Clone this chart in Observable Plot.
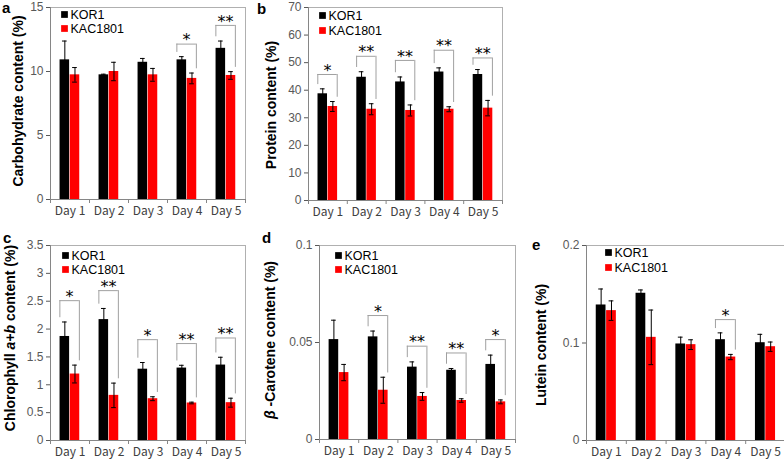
<!DOCTYPE html>
<html><head><meta charset="utf-8">
<script src="https://cdn.jsdelivr.net/npm/d3@7"></script>
<script src="https://cdn.jsdelivr.net/npm/@observablehq/plot@0.6"></script>
<style>
body{margin:0;background:#fff;}
#wrap{position:relative;width:784px;height:462px;overflow:hidden;background:#fff;}
#wrap > svg{position:absolute;}
</style></head><body><div id="wrap"></div>
<script>
const days = ["Day 1","Day 2","Day 3","Day 4","Day 5"];
const series = ["KOR1","KAC1801"];

// a: Carbohydrate content (%)
const carbKOR = [10.91, 9.74, 10.72, 10.91, 11.81];
const carbKORerr = [1.47, 0.05, 0.30, 0.25, 0.57];
const carbKAC = [9.74, 10.0, 9.74, 9.46, 9.69];
const carbKACerr = [0.57, 0.72, 0.50, 0.42, 0.30];
const carbSig = [{day:"Day 4", label:"*", y:12.14}, {day:"Day 5", label:"**", y:13.6}];
const carbTicks = [0, 5, 10, 15];

// b: Protein content (%)
const protKOR = [38.7, 44.7, 43.0, 46.6, 45.7];
const protKORerr = [1.8, 2.0, 1.8, 1.5, 1.8];
const protKAC = [34.1, 33.1, 32.65, 33.1, 33.5];
const protKACerr = [1.8, 2.0, 2.0, 0.9, 2.8];
const protSig = [{day:"Day 1", label:"*", y:45.7}, {day:"Day 2", label:"**", y:52.3}, {day:"Day 3", label:"**", y:50.8}, {day:"Day 4", label:"**", y:54.5}, {day:"Day 5", label:"**", y:51.7}];
const protTicks = [0, 10, 20, 30, 40, 50, 60, 70];

// c: Chlorophyll a+b content (%)
const chlKOR = [1.867, 2.17, 1.28, 1.30, 1.354];
const chlKORerr = [0.26, 0.20, 0.12, 0.05, 0.14];
const chlKAC = [1.193, 0.81, 0.75, 0.673, 0.679];
const chlKACerr = [0.16, 0.22, 0.035, 0.015, 0.08];
const chlSig = [{day:"Day 1", label:"*", y:2.51}, {day:"Day 2", label:"**", y:2.69}, {day:"Day 3", label:"*", y:1.81}, {day:"Day 4", label:"**", y:1.74}, {day:"Day 5", label:"**", y:1.84}];
const chlTicks = [0, 0.5, 1, 1.5, 2, 2.5, 3, 3.5];

// d: beta-Carotene content (%)
const carKOR = [0.0515, 0.0529, 0.0373, 0.0357, 0.0387];
const carKORerr = [0.0100, 0.0030, 0.0027, 0.0009, 0.0048];
const carKAC = [0.0345, 0.0254, 0.0222, 0.0201, 0.0194];
const carKACerr = [0.0042, 0.0067, 0.0020, 0.0009, 0.0010];
const carSig = [{day:"Day 2", label:"*", y:0.0639}, {day:"Day 3", label:"**", y:0.0481}, {day:"Day 4", label:"**", y:0.0446}, {day:"Day 5", label:"*", y:0.0515}];
const carTicks = [0, 0.05, 0.1];

// e: Lutein content (%)
const lutKOR = [0.139, 0.151, 0.099, 0.1034, 0.1003];
const lutKORerr = [0.0164, 0.0034, 0.007, 0.007, 0.0086];
const lutKAC = [0.1332, 0.1058, 0.0983, 0.0856, 0.0962];
const lutKACerr = [0.010, 0.028, 0.005, 0.0027, 0.0048];
const lutSig = [{day:"Day 4", label:"*", y:0.124}];
const lutTicks = [0, 0.1, 0.2];

const FONT = "'Noto Sans CJK JP', 'Noto Sans', sans-serif";
const LAT = "'Liberation Sans', Arial, sans-serif";
const wrap = document.getElementById("wrap");

function panel(c) {
  const rows = [];
  days.forEach((d, i) => {
    rows.push({day: d, s: series[0], v: c.kor[i], e: c.korErr[i], x1: i + 0.245, x2: i + 0.49});
    rows.push({day: d, s: series[1], v: c.kac[i], e: c.kacErr[i], x1: i + 0.505, x2: i + 0.75});
  });
  rows.forEach(r => r.xc = (r.x1 + r.x2) / 2);
  const gap = c.yMax * 0.022;
  const sig = c.sig.map(s => {
    const i = days.indexOf(s.day);
    return {label: s.label, y: s.y, xl: i + 0.24, xr: i + 0.74,
      yl: c.kor[i] + c.korErr[i] + gap, yr: c.kac[i] + c.kacErr[i] + gap};
  });
  const cap = 0.06;
  const p = Plot.plot({
    width: c.width, height: c.height,
    marginLeft: c.ml, marginRight: c.mr, marginTop: c.mt, marginBottom: c.mb,
    style: {fontFamily: FONT, fontSize: "12px", color: "#595959", background: "transparent", overflow: "visible"},
    x: {domain: [0, 5]},
    y: {domain: [0, c.yMax]},
    color: {domain: series, range: ["#000000", "#ff0000"]},
    marks: [
      Plot.frame({stroke: "#b0b0b0"}),
      Plot.rectY(rows, {x1: "x1", x2: "x2", y1: 0, y2: "v", fill: "s"}),
      Plot.ruleX(rows, {x: "xc", y1: d => d.v - d.e, y2: d => d.v + d.e, stroke: "#000", strokeWidth: 1}),
      Plot.ruleY(rows, {y: d => d.v + d.e, x1: d => d.xc - cap, x2: d => d.xc + cap, stroke: "#000", strokeWidth: 1}),
      Plot.ruleY(rows, {y: d => d.v - d.e, x1: d => d.xc - cap, x2: d => d.xc + cap, stroke: "#000", strokeWidth: 1}),
      Plot.ruleY(sig, {y: "y", x1: "xl", x2: "xr", stroke: "#a0a0a0", strokeWidth: 1}),
      Plot.ruleX(sig, {x: "xl", y1: "yl", y2: "y", stroke: "#a0a0a0", strokeWidth: 1}),
      Plot.ruleX(sig, {x: "xr", y1: "yr", y2: "y", stroke: "#a0a0a0", strokeWidth: 1}),
      Plot.text(sig, {x: d => (d.xl + d.xr) / 2, y: "y", text: "label", dy: -4, fontSize: 16, fontFamily: "'DejaVu Sans', sans-serif", fill: "#000", lineAnchor: "middle", style: "letter-spacing:2px"}),
      Plot.ruleX([0], {stroke: "#868686"}),
      Plot.ruleY([0], {stroke: "#868686"}),
      Plot.axisY({ticks: c.ticks, tickFormat: d => String(d), tickSize: 4, tickPadding: 3, label: null, color: "#595959", fontSize: 12, fontFamily: LAT}),
      Plot.axisX({ticks: [0, 1, 2, 3, 4, 5], tickFormat: () => "", tickSize: 4, label: null, color: "#868686"}),
      Plot.axisX({ticks: [0.5, 1.5, 2.5, 3.5, 4.5], tickFormat: d => days[Math.floor(d)], tickSize: 0, tickPadding: 7, label: null, color: "#404040", fontSize: 12}),
      Plot.dot([series[0]], {frameAnchor: "top-left", dx: c.lx, dy: c.ly1, symbol: "square", r: 3.8, fill: "#000"}),
      Plot.dot([series[1]], {frameAnchor: "top-left", dx: c.lx, dy: c.ly2, symbol: "square", r: 3.8, fill: "#ff0000"}),
      Plot.text([series[0]], {frameAnchor: "top-left", text: d => d, dx: c.lx + 6, dy: c.ly1, textAnchor: "start", lineAnchor: "middle", fontSize: 12.5, fontFamily: LAT, fill: "#000"}),
      Plot.text([series[1]], {frameAnchor: "top-left", text: d => d, dx: c.lx + 6, dy: c.ly2, textAnchor: "start", lineAnchor: "middle", fontSize: 12.5, fontFamily: LAT, fill: "#000"})
    ]
  });
  p.style.left = c.left + "px";
  p.style.top = c.top + "px";
  wrap.appendChild(p);
}

panel({kor: carbKOR, korErr: carbKORerr, kac: carbKAC, kacErr: carbKACerr, sig: carbSig, yMax: 15, ticks: carbTicks,
  left: 0, top: 0, width: 250, height: 225, ml: 50, mr: 5, mt: 7, mb: 26, lx: 14, ly1: 7, ly2: 21});
panel({kor: protKOR, korErr: protKORerr, kac: protKAC, kacErr: protKACerr, sig: protSig, yMax: 70, ticks: protTicks,
  left: 255, top: 0, width: 252, height: 225, ml: 53, mr: 5, mt: 7, mb: 25, lx: 14, ly1: 8, ly2: 23});
panel({kor: chlKOR, korErr: chlKORerr, kac: chlKAC, kacErr: chlKACerr, sig: chlSig, yMax: 3.5, ticks: chlTicks,
  left: 0, top: 225, width: 250, height: 237, ml: 50, mr: 5, mt: 20, mb: 22, lx: 15, ly1: 10, ly2: 24});
panel({kor: carKOR, korErr: carKORerr, kac: carKAC, kacErr: carKACerr, sig: carSig, yMax: 0.1, ticks: carTicks,
  left: 260, top: 225, width: 260, height: 237, ml: 59, mr: 5, mt: 20, mb: 23, lx: 19, ly1: 10, ly2: 24});
panel({kor: lutKOR, korErr: lutKORerr, kac: lutKAC, kacErr: lutKACerr, sig: lutSig, yMax: 0.2, ticks: lutTicks,
  left: 515, top: 225, width: 270, height: 237, ml: 71, mr: 0, mt: 20, mb: 22, lx: 22, ly1: 7, ly2: 22});

// overlay: panel letters and axis titles
const ov = d3.select(wrap).append("svg").attr("width", 784).attr("height", 462)
  .style("position", "absolute").style("left", 0).style("top", 0).style("pointer-events", "none")
  .style("font-family", LAT);
const letters = [["a", 2, 13], ["b", 257, 14], ["c", 3, 243], ["d", 262, 243], ["e", 532, 250]];
letters.forEach(([t, x, y]) => ov.append("text").attr("x", x).attr("y", y).attr("font-size", 15).attr("font-weight", "bold").text(t));
const titles = [
  {x: 18, y: 101, parts: [["Carbohydrate content (%)", false]]},
  {x: 271, y: 105, parts: [["Protein content (%)", false]]},
  {x: 10, y: 338, parts: [["Chlorophyll ", false], ["a+b", true], [" content (%)", false]]},
  {x: 270, y: 340, parts: [["β", true], [" -Carotene content (%)", false]]},
  {x: 541, y: 345, parts: [["Lutein content (%)", false]]}
];
titles.forEach(t => {
  const tx = ov.append("text").attr("transform", `translate(${t.x},${t.y}) rotate(-90)`)
    .attr("text-anchor", "middle").attr("dominant-baseline", "central")
    .attr("font-size", 14).attr("font-weight", "bold").attr("fill", "#000");
  t.parts.forEach(([s, it]) => tx.append("tspan").attr("font-style", it ? "italic" : "normal").text(s));
});
</script>
</body></html>
